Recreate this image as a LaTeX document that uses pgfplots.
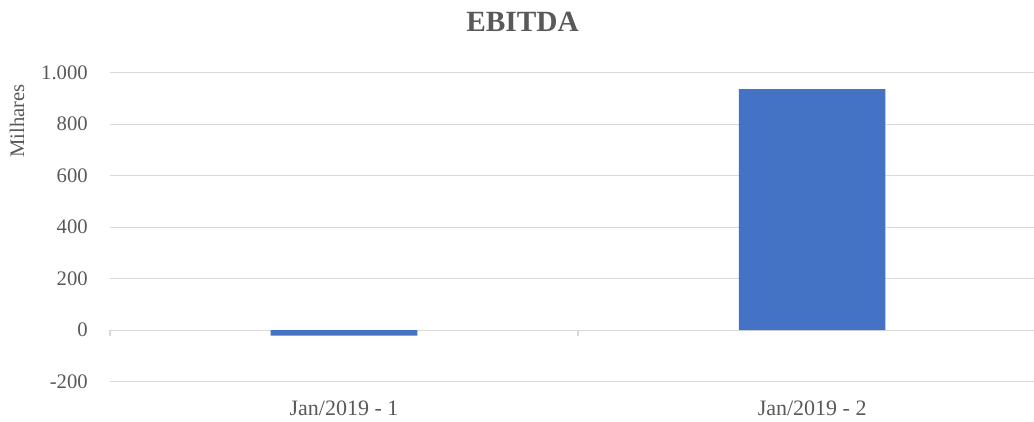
\documentclass[border=0pt]{standalone}
\usepackage{fontspec}
\setmainfont{Liberation Serif}
\usepackage{pgfplots}
\pgfplotsset{compat=1.18}
\definecolor{txt}{HTML}{595959}
\definecolor{grd}{HTML}{D9D9D9}
\definecolor{bar}{HTML}{4472C4}
\begin{document}
\begin{tikzpicture}
\useasboundingbox (0,0) rectangle (775.5pt,315.75pt);
\begin{axis}[
  at={(82.5pt,29.5pt)}, anchor=south west,
  scale only axis, width=693pt, height=231.75pt,
  xmin=-0.5, xmax=1.474, ymin=-200, ymax=1000,
  ytick={-200,0,200,400,600,800,1000},
  xtick={0,1}, xticklabels={Jan/2019 - 1, Jan/2019 - 2},
  axis line style={draw=none}, major tick length=0pt,
  ymajorgrids, grid style={grd, line width=0.9pt},
  /pgf/number format/.cd, 1000 sep={.}, assume math mode=true, /pgfplots/.cd,
  yticklabel style={anchor=east, inner sep=0pt, xshift=-16.5pt, font=\fontsize{15.5}{18}\selectfont, text=txt},
  xticklabel style={anchor=base, inner sep=0pt, yshift=-25.7pt, font=\fontsize{16.5}{19}\selectfont, text=txt},
  clip=false,
]
\addplot[ybar, bar width=110pt, bar shift=0pt, fill=bar, draw=none] coordinates {(0,-21) (1,936)};
\draw[grd, line width=0.9pt] (axis cs:-0.5,0) -- ([yshift=-4pt]axis cs:-0.5,0);
\draw[grd, line width=0.9pt] (axis cs:0.5,0) -- ([yshift=-4pt]axis cs:0.5,0);
\end{axis}
\node[anchor=base, text=txt, font=\fontsize{22}{26}\selectfont\bfseries] at (391.9pt,291.75pt) {EBITDA};
\node[rotate=90, text=txt, font=\fontsize{15.5}{18}\selectfont] at (12.75pt,225pt) {Milhares};
\end{tikzpicture}
\end{document}
